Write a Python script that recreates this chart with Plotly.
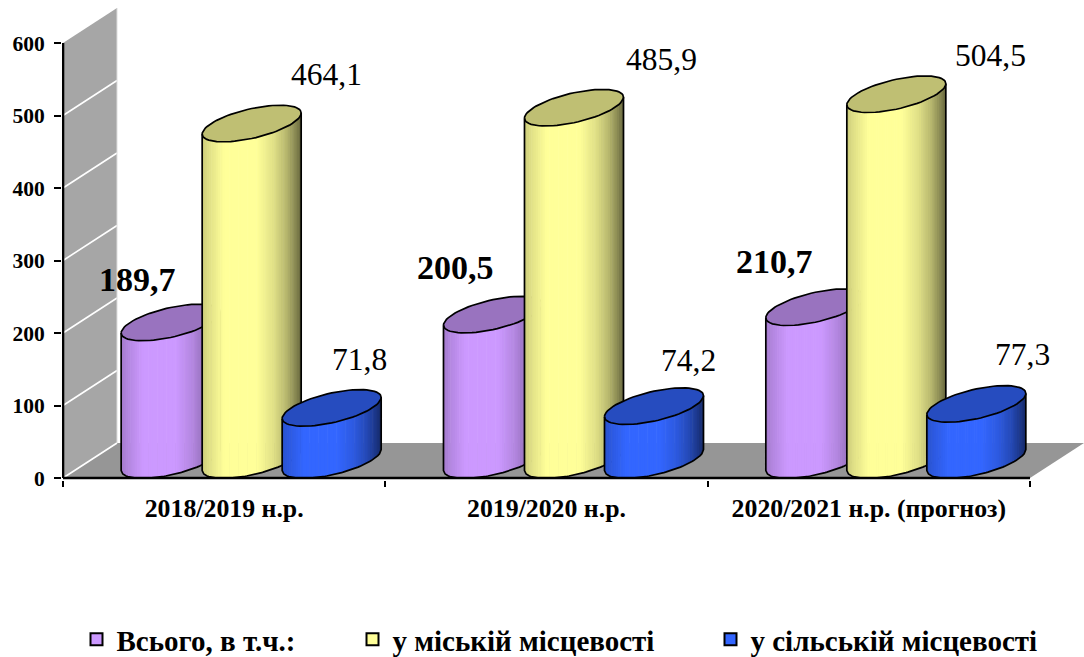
import numpy as np
import plotly.graph_objects as go

# ---- data ----
categories = ["2018/2019 н.р.", "2019/2020 н.р.", "2020/2021 н.р. (прогноз)"]
series_names = ["Всього, в т.ч.:", "у міській місцевості", "у сільській місцевості"]
total = [189.7, 200.5, 210.7]
urban = [464.1, 485.9, 504.5]
rural = [71.8, 74.2, 77.3]
y_ticks = [0, 100, 200, 300, 400, 500, 600]

# ---- style / geometry ----
FONT = "Liberation Serif"
W, H = 1084, 657
PX_X = 322.33          # pixels per category
PX_Y = 0.725           # pixels per value unit
DEPTH_X = 54 / PX_X
DEPTH_Y = 35 / PX_Y
A = 49.5 / PX_X        # ellipse half-width
DY = 10.5 / PX_Y       # ellipse tilt
B = 15 / PX_Y          # ellipse half-minor
BASE_Y = 18 / PX_Y     # centre of the cylinder base above the axis
CENTER_SHIFT = 27.5 / PX_X
OFFSETS = [-81 / PX_X, 0, 80 / PX_X]
BASE_COLORS = [(204, 153, 255), (255, 255, 153), (51, 102, 255)]
N_STRIPS = 44
PROFILE_T = [0, .06, .22, .55, .72, .85, .95, 1]
PROFILE_S = [.80, .87, 1, 1, .88, .72, .52, .40]

traces = []


def rgb(c, s):
    return "rgb(%d,%d,%d)" % tuple(int(round(v * s)) for v in c)


def poly(xs, ys, color):
    return go.Scatter(x=xs, y=ys, mode="lines", fill="toself", fillcolor=color,
                      line=dict(width=0, color=color), hoverinfo="skip", showlegend=False)


def lower_curve(cx, cy, x):
    c = np.clip((x - cx) / A, -1, 1)
    return cy + DY * c - B * np.sqrt(1 - c ** 2)


xmax = 3 + DEPTH_X
# side wall, floor
traces.append(poly([0, DEPTH_X, DEPTH_X, 0, 0], [600, 600 + DEPTH_Y, DEPTH_Y, 0, 600], "#a6a6a6"))
traces.append(poly([0, DEPTH_X, xmax, 3, 0], [0, DEPTH_Y, DEPTH_Y, 0, 0], "#969696"))
# wall gridlines
gx, gy = [], []
for v in y_ticks[:-1]:
    gx += [0, DEPTH_X, None]
    gy += [v, v + DEPTH_Y, None]
traces.append(go.Scatter(x=gx, y=gy, mode="lines", line=dict(color="white", width=1.6),
                         hoverinfo="skip", showlegend=False))
traces.append(go.Scatter(x=[DEPTH_X, DEPTH_X], y=[DEPTH_Y, 600 + DEPTH_Y], mode="lines",
                         line=dict(color="#dddddd", width=1), hoverinfo="skip", showlegend=False))

all_series = [total, urban, rural]
for si, values in enumerate(all_series):
    base = BASE_COLORS[si]
    centers = [i + 0.5 + CENTER_SHIFT + OFFSETS[si] for i in range(3)]
    # shaded body strips
    for k in range(N_STRIPS):
        t0, t1 = k / N_STRIPS, (k + 1) / N_STRIPS
        s = np.interp((t0 + t1) / 2, PROFILE_T, PROFILE_S)
        xs, ys = [], []
        for cx, v in zip(centers, values):
            x0 = cx - A + 2 * A * t0
            x1 = min(cx - A + 2 * A * t1 + 0.6 / PX_X, cx + A)
            top = v + BASE_Y
            xs += [x0, x1, x1, x0, x0, None]
            ys += [lower_curve(cx, top, x0), lower_curve(cx, top, x1),
                   lower_curve(cx, BASE_Y, x1), lower_curve(cx, BASE_Y, x0),
                   lower_curve(cx, top, x0), None]
        traces.append(poly(xs, ys, rgb(base, s)))
    # silhouette and cap
    th = np.linspace(0, 2 * np.pi, 73)
    sx, sy, ex, ey = [], [], [], []
    for cx, v in zip(centers, values):
        top = v + BASE_Y
        qx = cx - A * np.cos(th)
        qy = top + DY * (-np.cos(th)) - B * np.sin(th)
        ex += list(qx) + [None]
        ey += list(qy) + [None]
        bx = np.linspace(cx - A, cx + A, 61)
        by = lower_curve(cx, BASE_Y, bx)
        sx += [cx - A] + list(bx) + [cx + A, None]
        sy += [top - DY] + list(by) + [top + DY, None]
    traces.append(go.Scatter(x=ex, y=ey, mode="lines", fill="toself", fillcolor=rgb(base, .75),
                             line=dict(color="black", width=1.7), hoverinfo="skip", showlegend=False))
    traces.append(go.Scatter(x=sx, y=sy, mode="lines", line=dict(color="black", width=1.7),
                             hoverinfo="skip", showlegend=False))

# axis lines
traces.append(go.Scatter(x=[0, 0], y=[0, 600], mode="lines", line=dict(color="black", width=2.6),
                         hoverinfo="skip", showlegend=False))
traces.append(go.Scatter(x=[0, 3], y=[0, 0], mode="lines", line=dict(color="black", width=2.6),
                         hoverinfo="skip", showlegend=False))

# legend entries (one legend box each, to reproduce the spacing)
legend_ids = ["legend", "legend2", "legend3"]
for si, name in enumerate(series_names):
    traces.append(go.Scatter(x=[None], y=[None], mode="markers", name=name, legend=legend_ids[si],
                             marker=dict(symbol="square", size=13, color=rgb(BASE_COLORS[si], 1),
                                         line=dict(color="black", width=2))))

fig = go.Figure(traces)

# value labels: pixel offsets from the middle of each cap
label_shift = [
    [(-33, 43), (-37, 47), (-41, 46)],
    [(75, 49), (88, 48), (94, 39)],
    [(28, 48), (35, 46), (46, 49)],
]
annotations = []
for si, values in enumerate(all_series):
    for i, v in enumerate(values):
        cx = i + 0.5 + CENTER_SHIFT + OFFSETS[si]
        dx, dy = label_shift[si][i]
        txt = f"{v:.1f}".replace(".", ",")
        annotations.append(dict(
            x=cx, y=v + BASE_Y, xref="x", yref="y", xshift=dx, yshift=dy, showarrow=False,
            xanchor="center", yanchor="middle",
            text=f"<b>{txt}</b>" if si == 0 else txt,
            font=dict(family=FONT, size=34 if si == 0 else 31.5, color="black")))

legend_left = [76.5, 352.5, 710.5]
legend_common = dict(orientation="h", xref="container", yref="container", y=1 - 614 / H,
                     yanchor="top", xanchor="left", bgcolor="rgba(0,0,0,0)", itemsizing="constant",
                     itemwidth=30, font=dict(family=FONT, size=29, color="black", weight="bold"))
legends = {lid: dict(legend_common, x=lx / W) for lid, lx in zip(legend_ids, legend_left)}

fig.update_layout(
    width=W, height=H, autosize=False,
    margin=dict(l=62, r=0, t=5, b=177),
    paper_bgcolor="white", plot_bgcolor="white",
    showlegend=True,
    annotations=annotations,
    xaxis=dict(range=[-1 / PX_X, 1021 / PX_X], showgrid=False, zeroline=False, showline=False,
               tickmode="array", tickvals=[0.5, 1.5, 2.5], ticktext=categories, ticks="", ticklen=0,
               ticklabelstandoff=10,
               tickfont=dict(family=FONT, size=25.8, color="black", weight="bold"),
               minor=dict(tickmode="array", tickvals=[0, 1, 2, 3], ticks="outside", ticklen=6,
                          tickwidth=1.5, tickcolor="black", showgrid=False)),
    yaxis=dict(range=[-2 / PX_Y, 473 / PX_Y], showgrid=False, zeroline=False, showline=False,
               tickmode="array", tickvals=y_ticks, ticks="outside", ticklen=7, tickwidth=1.5,
               tickcolor="black", ticklabelstandoff=5,
               tickfont=dict(family=FONT, size=21.5, color="black", weight="bold")),
    **legends,
)

fig.write_html("out.html", config=dict(displayModeBar=False),
               post_script="document.body.style.margin='0';")
